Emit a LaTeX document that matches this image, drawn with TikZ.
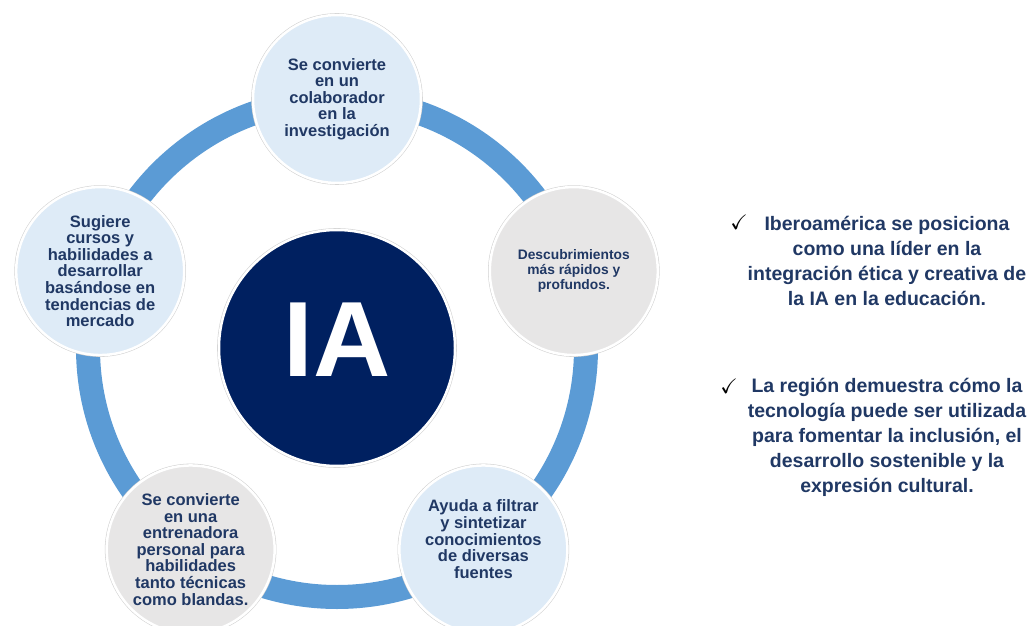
\documentclass[tikz,border=0pt]{standalone}
\usepackage{fontspec}
\setmainfont{Liberation Sans}
\usepackage{amssymb}
\usepackage{xcolor}
\usetikzlibrary{positioning}

\definecolor{ringblue}{HTML}{5B9BD5}
\definecolor{navy}{HTML}{002060}
\definecolor{txtnavy}{HTML}{203864}
\definecolor{paleblue}{HTML}{DEEBF7}
\definecolor{palegray}{HTML}{E7E6E6}

\begin{document}
\begin{tikzpicture}[x=1pt, y=1pt,
        bubble/.style={circle, inner sep=0pt, minimum size=168pt, draw=white, line width=2.5pt,
            preaction={draw=black!18, line width=3.6pt}, text=txtnavy, align=center,
            font=\fontsize{16.5}{16.6}\selectfont\bfseries},
        note/.style={text=txtnavy, align=center, font=\fontsize{19.5}{25}\selectfont\bfseries},
        tick/.style={font=\fontsize{21}{21}\selectfont}]
    \useasboundingbox (0,0) rectangle (1034,625);

    % Centre
    \node[circle, inner sep=0pt, minimum size=236pt, fill=navy, draw=white, line width=2.5pt,
        preaction={draw=black!18, line width=3.6pt}] (ia) at (337,277) {};
    \node[text=white, font=\fontsize{107}{107}\selectfont\bfseries] (ialbl) at ([yshift=8]ia.center) {IA};

    % Ring
    \draw[ringblue, line width=24pt] (ia.center) circle[radius=249pt];

    % Bubbles around the ring
    \node[bubble, fill=paleblue] (colab) at ([shift={(90:249)}]ia.center)
        {Se convierte\\en un\\colaborador\\en la\\investigación};
    \node[bubble, fill=palegray, font=\fontsize{13.8}{15}\selectfont\bfseries] (descub) at ([shift={(18:249)}]ia.center)
        {Descubrimientos\\más rápidos y\\profundos.};
    \node[bubble, fill=paleblue] (filtra) at ([shift={(-54:249)}]ia.center)
        {Ayuda a filtrar\\y sintetizar\\conocimientos\\de diversas\\fuentes\\[4pt]};
    \node[bubble, fill=palegray] (entrena) at ([shift={(234:249)}]ia.center)
        {Se convierte\\en una\\entrenadora\\personal para\\habilidades\\tanto técnicas\\como blandas.};
    \node[bubble, fill=paleblue] (sugiere) at ([shift={(162:249)}]ia.center)
        {Sugiere\\cursos y\\habilidades a\\desarrollar\\basándose en\\tendencias de\\mercado};

    % Notes on the right
    \node[note] (noteA) at (887,364) {Iberoamérica se posiciona\\como una líder en la\\integración ética y creativa de\\la IA en la educación.};
    \node[note] (noteB) at (887,188) {La región demuestra cómo la\\tecnología puede ser utilizada\\para fomentar la inclusión, el\\desarrollo sostenible y la\\expresión cultural.};
    \node[tick] (chkA) at (739,403) {$\checkmark$};
    \node[tick] (chkB) at (729,239) {$\checkmark$};
\end{tikzpicture}
\end{document}
